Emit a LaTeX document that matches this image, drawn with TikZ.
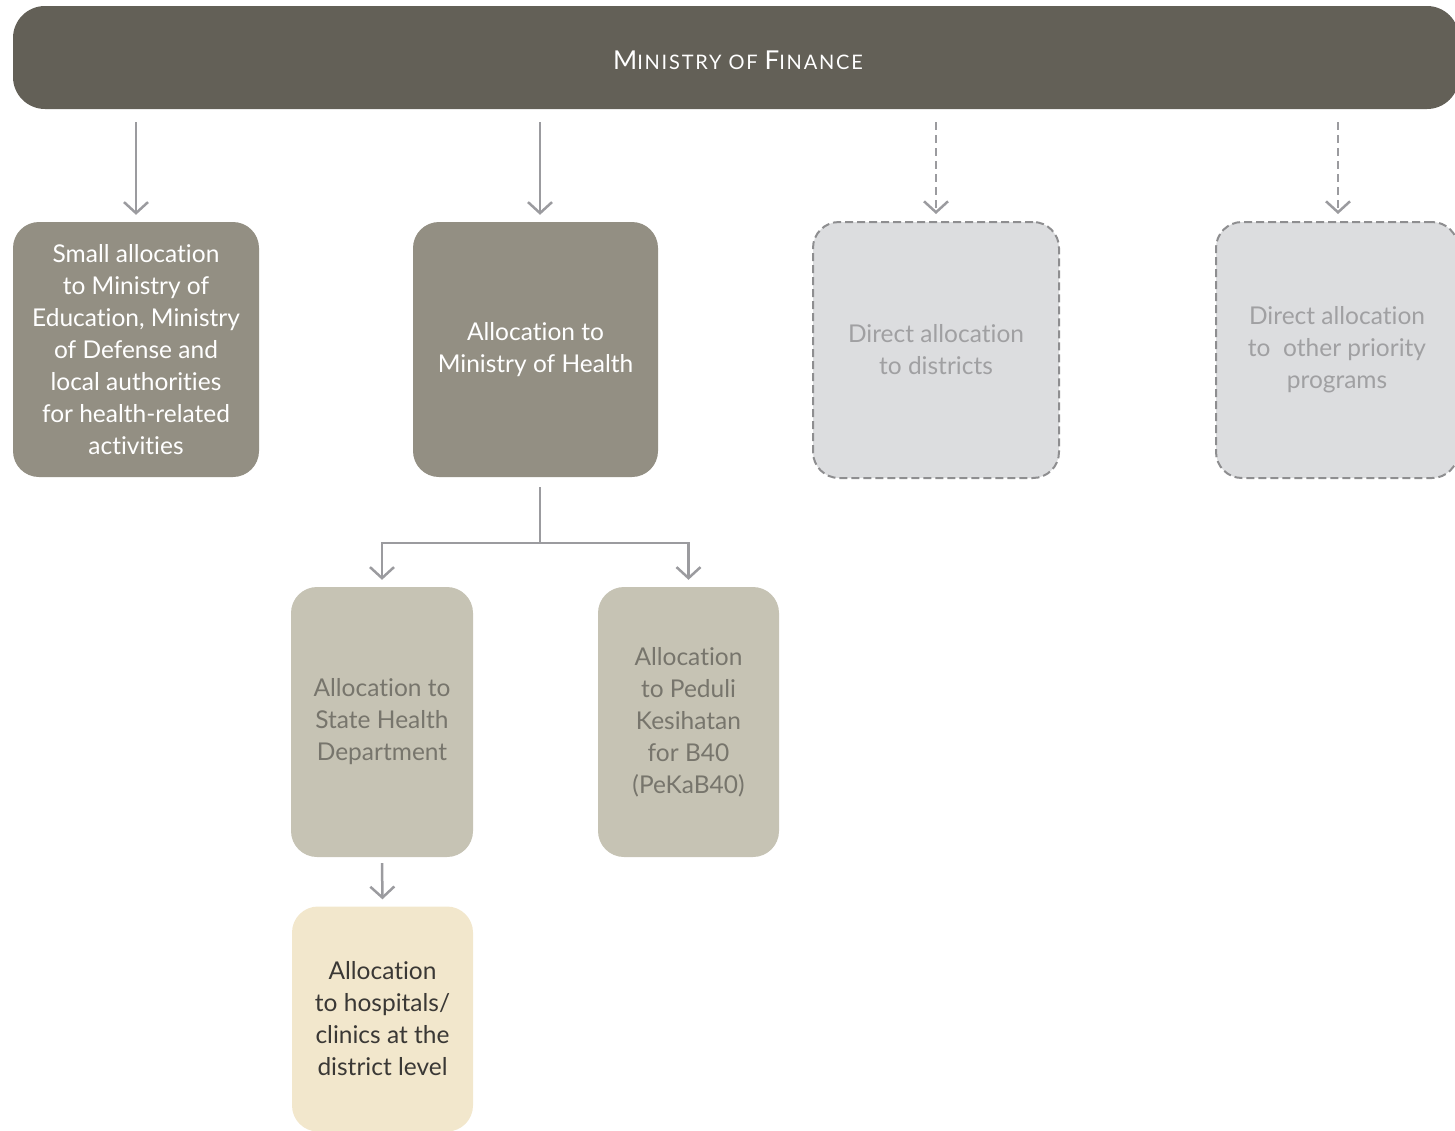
\documentclass[tikz,border=0pt]{standalone}
\usepackage{fontspec}
\setmainfont{Lato}[Ligatures={NoCommon}]
\usetikzlibrary{arrows.meta}
\definecolor{hdrc}{HTML}{636057}
\definecolor{darkbox}{HTML}{938F83}
\definecolor{midbox}{HTML}{C6C3B4}
\definecolor{midtext}{HTML}{77756C}
\definecolor{lightbox}{HTML}{DCDDDF}
\definecolor{lighttext}{HTML}{A0A0A2}
\definecolor{dashc}{HTML}{8E8E90}
\definecolor{creambox}{HTML}{F2E7CC}
\definecolor{creamtext}{HTML}{3A3835}
\definecolor{arrc}{HTML}{9B9B9F}
\begin{document}
\begin{tikzpicture}[x=1pt,y=-1pt,
  box/.style={rectangle, rounded corners=26pt, inner sep=0pt, align=center,
    font=\fontsize{24.5}{32}\selectfont},
  darkb/.style={box, fill=darkbox, text=white},
  midb/.style={box, fill=midbox, text=midtext},
  lightb/.style={box, fill=lightbox, text=lighttext, draw=dashc, line width=2pt,
    dash pattern=on 8pt off 4pt},
  creamb/.style={box, fill=creambox, text=creamtext},
  conn/.style={draw=arrc, line width=2.5pt},
  arr/.style={conn, -{Straight Barb[length=11pt,width=24pt,line width=2.5pt]}},
  darr/.style={arr, dash pattern=on 8pt off 5pt}
]
\useasboundingbox (0,0) rectangle (1455,1130);
\node[box, fill=hdrc, text=white, rounded corners=32pt, minimum width=1446pt, minimum height=103pt]
  (hdr) at (736,57.5) {};
\node[text=white, inner sep=0pt] (hdrt) at (738,60)
  {\fontsize{26}{28}\selectfont\addfontfeatures{LetterSpace=9}M{\fontsize{20}{22}\selectfont INISTRY OF }F{\fontsize{20}{22}\selectfont INANCE}};

\node[darkb, minimum width=246pt, minimum height=255pt] (b1) at (136,349.5)
  {Small allocation\\to Ministry of\\Education, Ministry\\of Defense and\\local authorities\\for health-related\\activities};
\node[darkb, minimum width=245pt, minimum height=255pt] (b2) at (535.5,349.5)
  {Allocation to\\Ministry of Health};
\node[lightb, minimum width=246pt, minimum height=256pt] (b3) at (936,350)
  {Direct allocation\\to districts};
\node[lightb, minimum width=242pt, minimum height=256pt] (b4) at (1337,350)
  {Direct allocation\\to\ \ other priority\\programs};
\node[midb, minimum width=182pt, minimum height=270pt] (b5) at (382,722)
  {Allocation to\\State Health\\Department};
\node[midb, minimum width=181pt, minimum height=270pt] (b6) at (688.5,722)
  {Allocation\\to Peduli\\Kesihatan\\for B40\\(PeKaB40)};
\node[creamb, minimum width=181pt, minimum height=225pt] (b7) at (382.5,1019)
  {Allocation\\to hospitals/\\clinics at the\\district level};

\draw[arr, shorten <=13pt, shorten >=7pt] (b1.north |- hdr.south) -- (b1.north);
\draw[arr, shorten <=13pt, shorten >=7pt] ([xshift=4.5pt]b2.north |- hdr.south) -- ([xshift=4.5pt]b2.north);
\draw[darr, shorten <=13pt, shorten >=7pt] (b3.north |- hdr.south) -- (b3.north);
\draw[darr, shorten <=13pt, shorten >=7pt] ([xshift=1pt]b4.north |- hdr.south) -- ([xshift=1pt]b4.north);

\coordinate (j) at (540,543);
\draw[conn, shorten <=10pt] ([xshift=4.5pt]b2.south) -- (j);
\draw[arr, shorten >=7pt] (j) -| (b5.north);
\draw[arr, shorten >=7pt] (j) -| (b6.north);
\draw[arr, shorten <=6pt, shorten >=7pt] (b5.south) -- (b7.north);
\end{tikzpicture}
\end{document}
